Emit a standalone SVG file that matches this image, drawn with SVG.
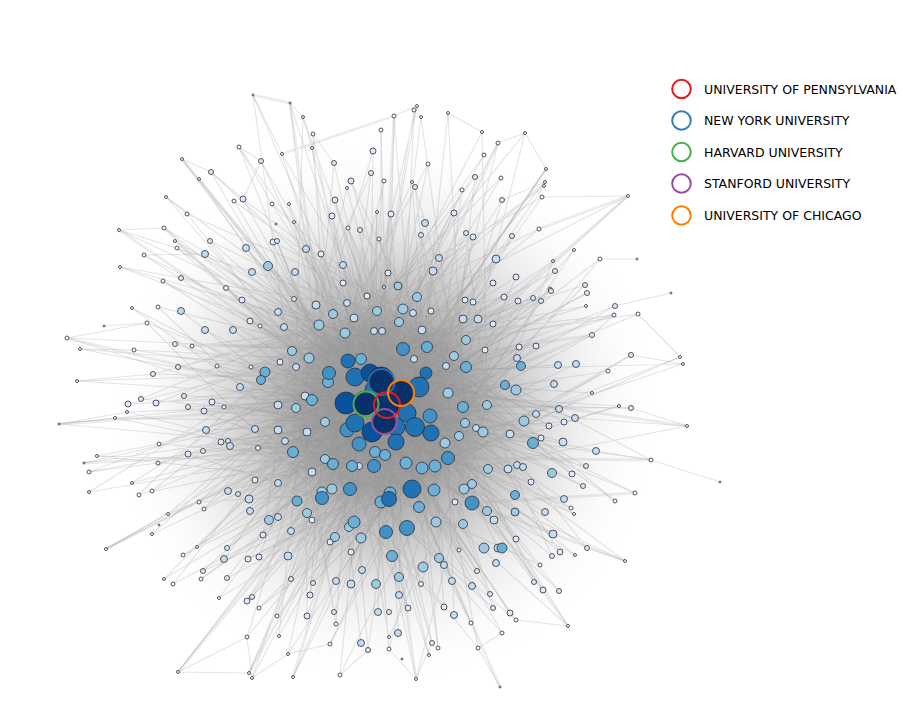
<svg xmlns="http://www.w3.org/2000/svg" width="903" height="728" viewBox="0 0 903 728">
<defs>
<radialGradient id="dens" cx="385" cy="410" r="270" gradientUnits="userSpaceOnUse">
<stop offset="0" stop-color="#8a8a8a" stop-opacity="0.95"/>
<stop offset="0.3" stop-color="#929292" stop-opacity="0.82"/>
<stop offset="0.5" stop-color="#a2a2a2" stop-opacity="0.55"/>
<stop offset="0.7" stop-color="#bcbcbc" stop-opacity="0.28"/>
<stop offset="0.88" stop-color="#d6d6d6" stop-opacity="0.09"/>
<stop offset="1" stop-color="#e8e8e8" stop-opacity="0"/>
</radialGradient>
</defs>
<style>
.e{fill:none;stroke:#8f8f8f;stroke-opacity:.24;stroke-width:1.1}
.ew{fill:none;stroke:#a0a0a0;stroke-opacity:.2;stroke-width:2.8;stroke-linecap:round}
.nodes circle{stroke:#25303d;stroke-width:.8}
.a{fill:#f7fbff}.b{fill:#deebf7}.c{fill:#c6dbef}.d{fill:#9ecae1}.e5{fill:#6baed6}.f{fill:#4292c6}.g{fill:#2171b5}.h{fill:#08519c}.i{fill:#08306b}
.ring{fill:none;stroke-width:2}
.lt{font-family:"DejaVu Sans","Liberation Sans",sans-serif;font-size:12.5px;fill:#000}
</style>
<rect width="903" height="728" fill="#fff"/>
<g id="connectors">
<ellipse cx="385" cy="410" rx="270" ry="270" fill="url(#dens)"/>
<path class="e" d="M253 95L387 405M290 103L381 380M303 117L402 393M313 134L365 403M312 148L384 422M282 154L419 387M182 159L355 377M199 179L412 489M166 197L346 403M234 201L372 432M272 204L407 413M187 214L355 423M119 230L426 373M164 228L431 433M175 241L396 442M177 248L370 373M144 255L348 361M120 267L403 349M163 281L448 458M239 147L329 373M394 116L387 405M381 130L381 380M414 110L402 393M417 106L365 403M421 117L384 422M448 113L419 387M482 132L355 377M498 143L412 489M484 155L346 403M428 164L372 432M347 188L407 413M384 181L355 423M412 182L426 373M462 190L431 433M289 204L396 442M377 212L370 373M294 222L348 361M348 228L403 349M379 239L448 458M525 133L329 373M546 169L387 405M545 182L381 380M544 186L402 393M501 178L365 403M542 197L384 422M628 196L419 387M539 229L355 377M574 250L412 489M553 261L346 403M600 259L372 432M550 289L407 413M132 308L355 423M158 307L426 373M147 323L431 433M67 338L396 442M80 349L370 373M134 350L348 361M192 346L403 349M260 326L448 458M77 381L329 373M217 366L387 405M251 367L381 380M224 407L402 393M127 412L365 403M115 418L384 422M59 424L419 387M159 444L355 377M97 456L412 489M84 463L346 403M158 463L372 432M89 472L407 413M132 483L355 423M152 491L426 373M89 492L431 433M139 494L396 442M586 306L370 373M614 315L348 361M638 314L403 349M680 357L448 458M683 364L329 373M608 371L387 405M592 393L381 380M619 406L402 393M687 426L365 403M651 460L384 422M635 493L419 387M199 502L412 489M204 509L346 403M168 514L372 432M152 534L407 413M106 549L355 423M197 547L426 373M183 555L431 433M201 579L396 442M164 579L370 373M173 584L348 361M219 598L403 349M259 608L448 458M247 637L329 373M178 672L387 405M249 673L381 380M252 678L402 393M459 550L365 403M471 623L384 422M279 636L419 387M336 624L355 377M330 644L412 489M389 637L346 403M389 649L372 432M438 648L407 413M429 655L355 423M478 648L426 373M288 654L431 433M293 677L396 442M340 675L370 373M416 679L348 361M615 501L403 349M571 508L448 458M574 514L329 373M575 555L387 405M625 561L381 380M540 565L402 393M516 620L365 403M502 633L384 422M568 626L419 387M277 616L355 377M261 161L412 489M211 172L346 403M243 199L372 432M210 241L407 413M273 242L355 423M181 278L426 373M226 288L431 433M334 163L396 442M373 151L370 373M371 173L348 361M351 181L403 349M415 187L448 458M475 177L329 373M335 200L387 405M332 216L381 380M391 214L402 393M454 213L365 403M360 230L384 422M421 235L419 387M466 233L355 377M473 237L412 489M277 241L346 403M321 254L372 432M343 283L407 413M388 273L355 423M493 283L426 373M502 200L431 433M512 236L396 442M555 271L370 373M585 285L348 361M516 277L403 349M242 300L448 458M250 321L329 373M175 344L387 405M153 374L381 380M178 367L402 393M184 396L365 403M141 399L384 422M128 404L419 387M156 403L355 377M188 407L412 489M204 411L346 403M212 402L372 432M228 441L407 413M221 442L355 423M258 448L426 373M188 454L431 433M203 451L396 442M255 480L370 373M238 494L348 361M504 297L403 349M518 301L448 458M533 298L329 373M541 301L387 405M551 291L381 380M587 293L402 393M615 306L365 403M592 335L384 422M519 347L419 387M536 346L355 377M631 355L412 489M631 408L346 403M564 422L372 432M549 426L407 413M541 438L355 423M572 474L426 373M586 466L431 433M531 482L396 442M583 486L370 373M263 535L348 361M227 548L403 349M248 559L448 458M259 557L329 373M203 571L387 405M227 578L381 380M252 597L402 393M247 601L365 403M291 579L384 422M313 583L419 387M421 584L355 377M490 594L412 489M310 595L346 403M307 616L372 432M334 612L407 413M408 608L355 423M444 607L426 373M493 608L431 433M368 650L396 442M432 643L370 373M477 571L348 361M516 539L403 349M560 552L448 458M552 556L329 373M587 548L387 405M534 582L381 380M543 590L402 393M559 591L365 403M510 613L384 422"/>
<path class="e" d="M253 95L296 408M290 103L325 422M303 117L293 452M313 134L333 464M312 148L352 466M282 154L375 452M182 159L406 463M199 179L435 466M166 197L463 407M234 201L466 367M272 204L427 347M187 214L403 309M119 230L377 311M164 228L345 333M175 241L319 325M177 248L309 358M144 255L292 351M120 267L448 393M163 281L483 432M239 147L445 443M394 116L422 468M381 130L390 493M414 110L350 489M417 106L322 498M421 117L454 356M448 113L465 423M482 132L487 405M498 143L399 322M484 155L329 373M428 164L305 396M347 188L296 408M384 181L325 422M412 182L293 452M462 190L333 464M289 204L352 466M377 212L375 452M294 222L406 463M348 228L435 466M379 239L463 407M525 133L466 367M546 169L427 347M545 182L403 309M544 186L377 311M501 178L345 333M542 197L319 325M628 196L309 358M539 229L292 351M574 250L448 393M553 261L483 432M600 259L445 443M550 289L422 468M132 308L390 493M158 307L350 489M147 323L322 498M67 338L454 356M80 349L465 423M134 350L487 405M192 346L399 322M260 326L329 373M77 381L305 396M217 366L296 408M251 367L325 422M224 407L293 452M127 412L333 464M115 418L352 466M59 424L375 452M159 444L406 463M97 456L435 466M84 463L463 407M158 463L466 367M89 472L427 347M132 483L403 309M152 491L377 311M89 492L345 333M139 494L319 325M586 306L309 358M614 315L292 351M638 314L448 393M680 357L483 432M683 364L445 443M608 371L422 468M592 393L390 493M619 406L350 489M687 426L322 498M651 460L454 356M635 493L465 423M199 502L399 322M204 509L329 373M168 514L305 396M152 534L296 408M106 549L325 422M197 547L293 452M183 555L333 464M201 579L352 466M164 579L375 452M173 584L406 463M219 598L435 466M259 608L463 407M247 637L466 367M178 672L427 347M249 673L403 309M252 678L377 311M459 550L345 333M471 623L319 325M279 636L309 358M336 624L292 351M330 644L448 393M389 637L483 432M389 649L445 443M438 648L422 468M429 655L390 493M478 648L350 489M288 654L322 498M293 677L454 356M340 675L465 423M416 679L487 405M615 501L399 322M571 508L329 373M574 514L305 396M575 555L296 408M625 561L325 422M540 565L293 452M516 620L333 464M502 633L352 466M568 626L375 452M277 616L406 463M261 161L435 466M211 172L463 407M243 199L466 367M210 241L427 347M273 242L403 309M181 278L377 311M226 288L345 333M334 163L319 325M373 151L309 358M371 173L292 351M351 181L448 393M415 187L483 432M475 177L445 443M335 200L422 468M332 216L390 493M391 214L350 489M454 213L322 498M360 230L454 356M421 235L465 423M466 233L487 405M473 237L399 322M277 241L329 373M321 254L305 396M343 283L296 408M388 273L325 422M493 283L293 452M502 200L333 464M512 236L352 466M555 271L375 452M585 285L406 463M516 277L435 466M242 300L463 407M250 321L466 367M175 344L427 347M153 374L403 309M178 367L377 311M184 396L345 333M141 399L319 325M128 404L309 358M156 403L292 351M188 407L448 393M204 411L483 432M212 402L445 443M228 441L422 468M221 442L390 493M258 448L350 489M188 454L322 498M203 451L454 356M255 480L465 423M238 494L487 405M504 297L399 322M518 301L329 373M533 298L305 396M541 301L296 408M551 291L325 422M587 293L293 452M615 306L333 464M592 335L352 466M519 347L375 452M536 346L406 463M631 355L435 466M631 408L463 407M564 422L466 367M549 426L427 347M541 438L403 309M572 474L377 311M586 466L345 333M531 482L319 325M583 486L309 358M263 535L292 351M227 548L448 393M248 559L483 432M259 557L445 443M203 571L422 468M227 578L390 493M252 597L350 489M247 601L322 498M291 579L454 356M313 583L465 423M421 584L487 405M490 594L399 322M310 595L329 373M307 616L305 396M334 612L296 408M408 608L325 422M444 607L293 452M493 608L333 464M368 650L352 466M432 643L375 452M477 571L406 463M516 539L435 466M560 552L463 407M552 556L466 367M587 548L427 347M534 582L403 309M543 590L377 311M559 591L345 333M510 613L319 325"/>
<path class="e" d="M246 248L387 405M205 254L381 380M252 272L402 393M425 223L365 403M306 249L384 422M295 272L419 387M439 258L355 377M181 311L412 489M205 330L346 403M233 330L372 432M240 387L407 413M206 430L355 423M255 429L426 373M230 446L431 433M228 491L396 442M316 305L370 373M347 303L348 361M278 312L403 349M354 318L448 458M413 313L329 373M463 319L387 405M478 319L381 380M284 327L402 393M422 330L365 403M296 367L384 422M446 366L419 387M278 405L355 377M278 430L412 489M307 432L346 403M285 441L372 432M476 428L407 413M517 358L355 423M558 365L426 373M576 364L431 433M554 384L396 442M559 409L370 373M575 418L348 361M536 414L403 349M510 434L448 458M563 442L329 373M596 451L387 405M508 469L381 380M312 472L402 393M278 483L365 403M249 499L384 422M250 511L419 387M224 559L355 377M433 271L412 489M496 259L346 403M494 520L372 432M288 556L407 413M362 570L355 423M444 565L426 373M336 581L431 433M351 584L396 442M452 581L370 373M472 586L348 361M399 595L403 349M454 615L448 458M361 643L329 373M398 633L387 405M378 612L381 380M564 499L402 393M545 512L365 403M553 534L384 422M498 548L419 387M268 266L355 377M417 297L412 489M292 351L346 403M296 408L372 432M487 405L407 413M487 511L355 423M269 520L426 373"/>
<path class="e" d="M239 147L261 161M261 161L243 199M211 172L243 199M182 159L211 172M166 197L187 214M119 230L164 228M144 255L205 254M120 267L181 278M67 338L147 323M80 349L134 350M77 381L153 374M59 424L127 412M97 456L159 444M89 472L158 463M106 549L168 514M178 672L249 673M252 678L247 637M288 654L330 644M340 675L368 650M416 679L432 643M500 687L478 648M568 626L516 620M625 561L587 548M651 460L596 451M720 482L651 460M687 426L631 408M683 364L631 355M680 357L638 314M671 293L615 306M637 259L600 259M628 196L542 197M546 169L525 133M482 132L448 113M417 106L394 116M290 103L303 117M253 95L282 154M313 134L334 163M303 117L312 148M239 147L272 204M525 133L498 143M545 182L502 200M614 315L592 335M619 406L564 422M178 672L247 637M252 678L288 654M416 679L389 649M502 633L478 648M59 424L115 418M104 326L147 323"/>
<path class="ew" d="M394 116L282 154M628 196L539 229M687 426L419 387M651 460L448 458M635 493L472 503M614 315L466 367M592 335L454 356M628 196L426 373M546 169L427 347M498 143L403 349M394 116L381 380M290 103L329 373M182 159L348 361M119 230L329 373M67 338L305 396M59 424L296 408M84 463L293 452M106 549L293 452M178 672L322 498M249 673L350 489M293 677L350 489M416 679L390 493M500 687L412 489M568 626L448 458M625 561L472 503M164 228L346 403M253 95L290 103"/>
</g>
<g class="nodes">
<g id="n1"><circle class="a" cx="253" cy="95" r="1"/></g>
<g id="n2"><circle class="a" cx="290" cy="103" r="1"/></g>
<g id="n3"><circle class="a" cx="303" cy="117" r="1.5"/></g>
<g id="n4"><circle class="a" cx="313" cy="134" r="2"/></g>
<g id="n5"><circle class="a" cx="312" cy="148" r="1.5"/></g>
<g id="n6"><circle class="a" cx="282" cy="154" r="1.5"/></g>
<g id="n7"><circle class="a" cx="182" cy="159" r="1.5"/></g>
<g id="n8"><circle class="a" cx="199" cy="179" r="1.5"/></g>
<g id="n9"><circle class="a" cx="166" cy="197" r="1.5"/></g>
<g id="n10"><circle class="a" cx="234" cy="201" r="2"/></g>
<g id="n11"><circle class="a" cx="272" cy="204" r="2"/></g>
<g id="n12"><circle class="a" cx="187" cy="214" r="2"/></g>
<g id="n13"><circle class="a" cx="119" cy="230" r="1.5"/></g>
<g id="n14"><circle class="a" cx="164" cy="228" r="2"/></g>
<g id="n15"><circle class="a" cx="175" cy="241" r="1.5"/></g>
<g id="n16"><circle class="a" cx="177" cy="248" r="2"/></g>
<g id="n17"><circle class="a" cx="144" cy="255" r="2"/></g>
<g id="n18"><circle class="a" cx="120" cy="267" r="1.5"/></g>
<g id="n19"><circle class="a" cx="163" cy="281" r="2"/></g>
<g id="n20"><circle class="a" cx="239" cy="147" r="2"/></g>
<g id="n21"><circle class="a" cx="394" cy="116" r="2"/></g>
<g id="n22"><circle class="a" cx="381" cy="130" r="2"/></g>
<g id="n23"><circle class="a" cx="414" cy="110" r="2"/></g>
<g id="n24"><circle class="a" cx="417" cy="106" r="1.5"/></g>
<g id="n25"><circle class="a" cx="421" cy="117" r="1.5"/></g>
<g id="n26"><circle class="a" cx="448" cy="113" r="1.5"/></g>
<g id="n27"><circle class="a" cx="482" cy="132" r="1.5"/></g>
<g id="n28"><circle class="a" cx="498" cy="143" r="2"/></g>
<g id="n29"><circle class="a" cx="484" cy="155" r="2"/></g>
<g id="n30"><circle class="a" cx="428" cy="164" r="2"/></g>
<g id="n31"><circle class="a" cx="347" cy="188" r="1.5"/></g>
<g id="n32"><circle class="a" cx="384" cy="181" r="2"/></g>
<g id="n33"><circle class="a" cx="412" cy="182" r="1.5"/></g>
<g id="n34"><circle class="a" cx="462" cy="190" r="2"/></g>
<g id="n35"><circle class="a" cx="289" cy="204" r="1.5"/></g>
<g id="n36"><circle class="a" cx="377" cy="212" r="1.5"/></g>
<g id="n37"><circle class="a" cx="294" cy="222" r="1.5"/></g>
<g id="n38"><circle class="a" cx="348" cy="228" r="2"/></g>
<g id="n39"><circle class="a" cx="379" cy="239" r="2"/></g>
<g id="n40"><circle class="a" cx="525" cy="133" r="1.5"/></g>
<g id="n41"><circle class="a" cx="546" cy="169" r="1.5"/></g>
<g id="n42"><circle class="a" cx="545" cy="182" r="1.5"/></g>
<g id="n43"><circle class="a" cx="544" cy="186" r="1.5"/></g>
<g id="n44"><circle class="a" cx="501" cy="178" r="2"/></g>
<g id="n45"><circle class="a" cx="542" cy="197" r="2"/></g>
<g id="n46"><circle class="a" cx="628" cy="196" r="1.5"/></g>
<g id="n47"><circle class="a" cx="539" cy="229" r="2"/></g>
<g id="n48"><circle class="a" cx="574" cy="250" r="1.5"/></g>
<g id="n49"><circle class="a" cx="553" cy="261" r="1.5"/></g>
<g id="n50"><circle class="a" cx="600" cy="259" r="2"/></g>
<g id="n51"><circle class="a" cx="637" cy="259" r="1"/></g>
<g id="n52"><circle class="a" cx="550" cy="289" r="2"/></g>
<g id="n53"><circle class="a" cx="132" cy="308" r="1.5"/></g>
<g id="n54"><circle class="a" cx="158" cy="307" r="2"/></g>
<g id="n55"><circle class="a" cx="104" cy="326" r="1"/></g>
<g id="n56"><circle class="a" cx="147" cy="323" r="2"/></g>
<g id="n57"><circle class="a" cx="67" cy="338" r="2"/></g>
<g id="n58"><circle class="a" cx="80" cy="349" r="1.5"/></g>
<g id="n59"><circle class="a" cx="134" cy="350" r="2"/></g>
<g id="n60"><circle class="a" cx="192" cy="346" r="2"/></g>
<g id="n61"><circle class="a" cx="260" cy="326" r="2"/></g>
<g id="n62"><circle class="a" cx="77" cy="381" r="1.5"/></g>
<g id="n63"><circle class="a" cx="217" cy="366" r="2"/></g>
<g id="n64"><circle class="a" cx="251" cy="367" r="2"/></g>
<g id="n65"><circle class="a" cx="224" cy="407" r="2"/></g>
<g id="n66"><circle class="a" cx="127" cy="412" r="1.5"/></g>
<g id="n67"><circle class="a" cx="115" cy="418" r="1.5"/></g>
<g id="n68"><circle class="a" cx="59" cy="424" r="1"/></g>
<g id="n69"><circle class="a" cx="159" cy="444" r="2"/></g>
<g id="n70"><circle class="a" cx="97" cy="456" r="1.5"/></g>
<g id="n71"><circle class="a" cx="84" cy="463" r="1"/></g>
<g id="n72"><circle class="a" cx="158" cy="463" r="2"/></g>
<g id="n73"><circle class="a" cx="89" cy="472" r="2"/></g>
<g id="n74"><circle class="a" cx="132" cy="483" r="1.5"/></g>
<g id="n75"><circle class="a" cx="152" cy="491" r="2"/></g>
<g id="n76"><circle class="a" cx="89" cy="492" r="1.5"/></g>
<g id="n77"><circle class="a" cx="139" cy="495" r="2"/></g>
<g id="n78"><circle class="a" cx="276" cy="224" r="1"/></g>
<g id="n79"><circle class="a" cx="586" cy="306" r="1.5"/></g>
<g id="n80"><circle class="a" cx="614" cy="315" r="2"/></g>
<g id="n81"><circle class="a" cx="638" cy="314" r="2"/></g>
<g id="n82"><circle class="a" cx="680" cy="357" r="1.5"/></g>
<g id="n83"><circle class="a" cx="683" cy="364" r="1.5"/></g>
<g id="n84"><circle class="a" cx="608" cy="371" r="2"/></g>
<g id="n85"><circle class="a" cx="592" cy="393" r="1.5"/></g>
<g id="n86"><circle class="a" cx="619" cy="406" r="1.5"/></g>
<g id="n87"><circle class="a" cx="687" cy="426" r="1.5"/></g>
<g id="n88"><circle class="a" cx="651" cy="460" r="2"/></g>
<g id="n89"><circle class="a" cx="671" cy="293" r="1"/></g>
<g id="n90"><circle class="a" cx="720" cy="482" r="1"/></g>
<g id="n91"><circle class="a" cx="635" cy="493" r="2"/></g>
<g id="n92"><circle class="a" cx="199" cy="502" r="2"/></g>
<g id="n93"><circle class="a" cx="204" cy="509" r="2"/></g>
<g id="n94"><circle class="a" cx="168" cy="514" r="1.5"/></g>
<g id="n95"><circle class="a" cx="159" cy="525" r="1"/></g>
<g id="n96"><circle class="a" cx="152" cy="534" r="1.5"/></g>
<g id="n97"><circle class="a" cx="106" cy="549" r="1.5"/></g>
<g id="n98"><circle class="a" cx="197" cy="547" r="1.5"/></g>
<g id="n99"><circle class="a" cx="183" cy="555" r="2"/></g>
<g id="n100"><circle class="a" cx="201" cy="579" r="2"/></g>
<g id="n101"><circle class="a" cx="164" cy="579" r="1.5"/></g>
<g id="n102"><circle class="a" cx="173" cy="584" r="2"/></g>
<g id="n103"><circle class="a" cx="219" cy="598" r="1.5"/></g>
<g id="n104"><circle class="a" cx="259" cy="608" r="2"/></g>
<g id="n105"><circle class="a" cx="247" cy="637" r="2"/></g>
<g id="n106"><circle class="a" cx="178" cy="672" r="1.5"/></g>
<g id="n107"><circle class="a" cx="249" cy="673" r="1.5"/></g>
<g id="n108"><circle class="a" cx="252" cy="678" r="1.5"/></g>
<g id="n109"><circle class="a" cx="459" cy="550" r="2"/></g>
<g id="n110"><circle class="a" cx="471" cy="623" r="2"/></g>
<g id="n111"><circle class="a" cx="279" cy="636" r="1.5"/></g>
<g id="n112"><circle class="a" cx="336" cy="624" r="2"/></g>
<g id="n113"><circle class="a" cx="330" cy="644" r="2"/></g>
<g id="n114"><circle class="a" cx="389" cy="637" r="1.5"/></g>
<g id="n115"><circle class="a" cx="389" cy="649" r="2"/></g>
<g id="n116"><circle class="a" cx="438" cy="648" r="2"/></g>
<g id="n117"><circle class="a" cx="429" cy="655" r="1.5"/></g>
<g id="n118"><circle class="a" cx="478" cy="648" r="2"/></g>
<g id="n119"><circle class="a" cx="402" cy="659" r="1"/></g>
<g id="n120"><circle class="a" cx="288" cy="654" r="1.5"/></g>
<g id="n121"><circle class="a" cx="293" cy="677" r="1.5"/></g>
<g id="n122"><circle class="a" cx="340" cy="675" r="2"/></g>
<g id="n123"><circle class="a" cx="416" cy="679" r="1.5"/></g>
<g id="n124"><circle class="a" cx="615" cy="501" r="2"/></g>
<g id="n125"><circle class="a" cx="571" cy="508" r="2"/></g>
<g id="n126"><circle class="a" cx="574" cy="514" r="1.5"/></g>
<g id="n127"><circle class="a" cx="575" cy="555" r="1.5"/></g>
<g id="n128"><circle class="a" cx="625" cy="561" r="1.5"/></g>
<g id="n129"><circle class="a" cx="540" cy="565" r="2"/></g>
<g id="n130"><circle class="a" cx="516" cy="620" r="2"/></g>
<g id="n131"><circle class="a" cx="502" cy="633" r="2"/></g>
<g id="n132"><circle class="a" cx="568" cy="626" r="1.5"/></g>
<g id="n133"><circle class="a" cx="500" cy="687" r="1"/></g>
<g id="n134"><circle class="a" cx="277" cy="616" r="2"/></g>
<g id="n135"><circle class="a" cx="384" cy="287" r="1.5"/></g>
<g id="n136"><circle class="b" cx="261" cy="161" r="2.5"/></g>
<g id="n137"><circle class="b" cx="211" cy="172" r="2.5"/></g>
<g id="n138"><circle class="b" cx="243" cy="199" r="3"/></g>
<g id="n139"><circle class="b" cx="210" cy="241" r="2.5"/></g>
<g id="n140"><circle class="b" cx="273" cy="242" r="3"/></g>
<g id="n141"><circle class="b" cx="181" cy="278" r="2.5"/></g>
<g id="n142"><circle class="b" cx="226" cy="288" r="2.5"/></g>
<g id="n143"><circle class="b" cx="334" cy="163" r="2.5"/></g>
<g id="n144"><circle class="b" cx="373" cy="151" r="3"/></g>
<g id="n145"><circle class="b" cx="371" cy="173" r="2.5"/></g>
<g id="n146"><circle class="b" cx="351" cy="181" r="3"/></g>
<g id="n147"><circle class="b" cx="415" cy="187" r="2.5"/></g>
<g id="n148"><circle class="b" cx="475" cy="177" r="2.5"/></g>
<g id="n149"><circle class="b" cx="335" cy="200" r="3"/></g>
<g id="n150"><circle class="b" cx="332" cy="216" r="3"/></g>
<g id="n151"><circle class="b" cx="391" cy="214" r="3"/></g>
<g id="n152"><circle class="b" cx="454" cy="213" r="3"/></g>
<g id="n153"><circle class="b" cx="360" cy="230" r="2.5"/></g>
<g id="n154"><circle class="b" cx="421" cy="235" r="2.5"/></g>
<g id="n155"><circle class="b" cx="466" cy="233" r="2.5"/></g>
<g id="n156"><circle class="b" cx="473" cy="237" r="3"/></g>
<g id="n157"><circle class="b" cx="277" cy="241" r="2.5"/></g>
<g id="n158"><circle class="b" cx="321" cy="254" r="3"/></g>
<g id="n159"><circle class="b" cx="343" cy="283" r="3"/></g>
<g id="n160"><circle class="b" cx="388" cy="273" r="3"/></g>
<g id="n161"><circle class="b" cx="493" cy="283" r="3"/></g>
<g id="n162"><circle class="b" cx="502" cy="200" r="2.5"/></g>
<g id="n163"><circle class="b" cx="512" cy="236" r="2.5"/></g>
<g id="n164"><circle class="b" cx="555" cy="271" r="2.5"/></g>
<g id="n165"><circle class="b" cx="585" cy="285" r="2.5"/></g>
<g id="n166"><circle class="b" cx="516" cy="277" r="3"/></g>
<g id="n167"><circle class="b" cx="242" cy="300" r="3"/></g>
<g id="n168"><circle class="b" cx="250" cy="321" r="3"/></g>
<g id="n169"><circle class="b" cx="175" cy="344" r="2.5"/></g>
<g id="n170"><circle class="b" cx="153" cy="374" r="2.5"/></g>
<g id="n171"><circle class="b" cx="178" cy="367" r="2.5"/></g>
<g id="n172"><circle class="b" cx="184" cy="396" r="2.5"/></g>
<g id="n173"><circle class="b" cx="141" cy="399" r="2.5"/></g>
<g id="n174"><circle class="b" cx="128" cy="404" r="3"/></g>
<g id="n175"><circle class="b" cx="156" cy="403" r="3"/></g>
<g id="n176"><circle class="b" cx="188" cy="407" r="2.5"/></g>
<g id="n177"><circle class="b" cx="204" cy="411" r="3"/></g>
<g id="n178"><circle class="b" cx="212" cy="402" r="3"/></g>
<g id="n179"><circle class="b" cx="228" cy="441" r="2.5"/></g>
<g id="n180"><circle class="b" cx="221" cy="442" r="3"/></g>
<g id="n181"><circle class="b" cx="258" cy="448" r="2.5"/></g>
<g id="n182"><circle class="b" cx="188" cy="454" r="3"/></g>
<g id="n183"><circle class="b" cx="203" cy="451" r="2.5"/></g>
<g id="n184"><circle class="b" cx="255" cy="480" r="3"/></g>
<g id="n185"><circle class="b" cx="238" cy="494" r="2.5"/></g>
<g id="n186"><circle class="b" cx="294" cy="299" r="2.5"/></g>
<g id="n187"><circle class="b" cx="367" cy="296" r="3"/></g>
<g id="n188"><circle class="b" cx="465" cy="300" r="3"/></g>
<g id="n189"><circle class="b" cx="473" cy="302" r="3"/></g>
<g id="n190"><circle class="b" cx="431" cy="311" r="3"/></g>
<g id="n191"><circle class="b" cx="493" cy="324" r="3"/></g>
<g id="n192"><circle class="b" cx="280" cy="362" r="3"/></g>
<g id="n193"><circle class="b" cx="485" cy="350" r="3"/></g>
<g id="n194"><circle class="b" cx="504" cy="297" r="3"/></g>
<g id="n195"><circle class="b" cx="518" cy="301" r="3"/></g>
<g id="n196"><circle class="b" cx="533" cy="298" r="2.5"/></g>
<g id="n197"><circle class="b" cx="541" cy="301" r="2.5"/></g>
<g id="n198"><circle class="b" cx="551" cy="291" r="2.5"/></g>
<g id="n199"><circle class="b" cx="587" cy="293" r="2.5"/></g>
<g id="n200"><circle class="b" cx="615" cy="306" r="2.5"/></g>
<g id="n201"><circle class="b" cx="592" cy="335" r="2.5"/></g>
<g id="n202"><circle class="b" cx="519" cy="347" r="3"/></g>
<g id="n203"><circle class="b" cx="536" cy="346" r="3"/></g>
<g id="n204"><circle class="b" cx="631" cy="355" r="2.5"/></g>
<g id="n205"><circle class="b" cx="631" cy="408" r="2.5"/></g>
<g id="n206"><circle class="b" cx="564" cy="422" r="3"/></g>
<g id="n207"><circle class="b" cx="549" cy="426" r="3"/></g>
<g id="n208"><circle class="b" cx="541" cy="438" r="3"/></g>
<g id="n209"><circle class="b" cx="572" cy="474" r="3"/></g>
<g id="n210"><circle class="b" cx="586" cy="466" r="2.5"/></g>
<g id="n211"><circle class="b" cx="531" cy="482" r="3"/></g>
<g id="n212"><circle class="b" cx="583" cy="486" r="2.5"/></g>
<g id="n213"><circle class="b" cx="263" cy="535" r="3"/></g>
<g id="n214"><circle class="b" cx="227" cy="548" r="2.5"/></g>
<g id="n215"><circle class="b" cx="248" cy="559" r="3"/></g>
<g id="n216"><circle class="b" cx="259" cy="557" r="3"/></g>
<g id="n217"><circle class="b" cx="203" cy="571" r="2.5"/></g>
<g id="n218"><circle class="b" cx="227" cy="578" r="2.5"/></g>
<g id="n219"><circle class="b" cx="252" cy="597" r="2.5"/></g>
<g id="n220"><circle class="b" cx="247" cy="601" r="3"/></g>
<g id="n221"><circle class="b" cx="312" cy="520" r="3"/></g>
<g id="n222"><circle class="b" cx="455" cy="502" r="3"/></g>
<g id="n223"><circle class="b" cx="330" cy="542" r="3"/></g>
<g id="n224"><circle class="b" cx="351" cy="552" r="3"/></g>
<g id="n225"><circle class="b" cx="291" cy="579" r="2.5"/></g>
<g id="n226"><circle class="b" cx="313" cy="583" r="2.5"/></g>
<g id="n227"><circle class="b" cx="421" cy="584" r="2.5"/></g>
<g id="n228"><circle class="b" cx="490" cy="594" r="2.5"/></g>
<g id="n229"><circle class="b" cx="310" cy="595" r="3"/></g>
<g id="n230"><circle class="b" cx="307" cy="616" r="3"/></g>
<g id="n231"><circle class="b" cx="334" cy="612" r="2.5"/></g>
<g id="n232"><circle class="b" cx="389" cy="612" r="2.5"/></g>
<g id="n233"><circle class="b" cx="408" cy="608" r="3"/></g>
<g id="n234"><circle class="b" cx="444" cy="607" r="3"/></g>
<g id="n235"><circle class="b" cx="493" cy="608" r="2.5"/></g>
<g id="n236"><circle class="b" cx="368" cy="650" r="2.5"/></g>
<g id="n237"><circle class="b" cx="432" cy="643" r="2.5"/></g>
<g id="n238"><circle class="b" cx="477" cy="571" r="2.5"/></g>
<g id="n239"><circle class="b" cx="516" cy="539" r="3"/></g>
<g id="n240"><circle class="b" cx="560" cy="552" r="3"/></g>
<g id="n241"><circle class="b" cx="552" cy="556" r="2.5"/></g>
<g id="n242"><circle class="b" cx="587" cy="548" r="2.5"/></g>
<g id="n243"><circle class="b" cx="534" cy="582" r="2.5"/></g>
<g id="n244"><circle class="b" cx="543" cy="590" r="3"/></g>
<g id="n245"><circle class="b" cx="559" cy="591" r="2.5"/></g>
<g id="n246"><circle class="b" cx="510" cy="613" r="3"/></g>
<g id="n247"><circle class="c" cx="246" cy="248" r="3.5"/></g>
<g id="n248"><circle class="c" cx="205" cy="254" r="3.5"/></g>
<g id="n249"><circle class="c" cx="252" cy="272" r="3.5"/></g>
<g id="n250"><circle class="c" cx="425" cy="223" r="3.5"/></g>
<g id="n251"><circle class="c" cx="306" cy="249" r="3.5"/></g>
<g id="n252"><circle class="c" cx="295" cy="272" r="3.5"/></g>
<g id="n253"><circle class="c" cx="439" cy="258" r="3.5"/></g>
<g id="n254"><circle class="c" cx="181" cy="311" r="3.5"/></g>
<g id="n255"><circle class="c" cx="205" cy="330" r="3.5"/></g>
<g id="n256"><circle class="c" cx="233" cy="330" r="3.5"/></g>
<g id="n257"><circle class="c" cx="240" cy="387" r="3.5"/></g>
<g id="n258"><circle class="c" cx="206" cy="430" r="3.5"/></g>
<g id="n259"><circle class="c" cx="255" cy="429" r="3.5"/></g>
<g id="n260"><circle class="c" cx="230" cy="446" r="3.5"/></g>
<g id="n261"><circle class="c" cx="228" cy="491" r="3.5"/></g>
<g id="n262"><circle class="c" cx="316" cy="305" r="4"/></g>
<g id="n263"><circle class="c" cx="347" cy="303" r="3.5"/></g>
<g id="n264"><circle class="c" cx="278" cy="312" r="3.5"/></g>
<g id="n265"><circle class="c" cx="354" cy="318" r="4"/></g>
<g id="n266"><circle class="c" cx="413" cy="313" r="3.5"/></g>
<g id="n267"><circle class="c" cx="463" cy="319" r="4"/></g>
<g id="n268"><circle class="c" cx="478" cy="319" r="4"/></g>
<g id="n269"><circle class="c" cx="284" cy="327" r="3.5"/></g>
<g id="n270"><circle class="c" cx="374" cy="331" r="3.5"/></g>
<g id="n271"><circle class="c" cx="382" cy="331" r="3.5"/></g>
<g id="n272"><circle class="c" cx="422" cy="330" r="4"/></g>
<g id="n273"><circle class="c" cx="296" cy="367" r="3.5"/></g>
<g id="n274"><circle class="c" cx="414" cy="359" r="3.5"/></g>
<g id="n275"><circle class="c" cx="446" cy="366" r="3.5"/></g>
<g id="n276"><circle class="c" cx="305" cy="396" r="4"/></g>
<g id="n277"><circle class="c" cx="278" cy="405" r="4"/></g>
<g id="n278"><circle class="c" cx="278" cy="430" r="4"/></g>
<g id="n279"><circle class="c" cx="307" cy="432" r="4"/></g>
<g id="n280"><circle class="c" cx="285" cy="441" r="3.5"/></g>
<g id="n281"><circle class="c" cx="476" cy="428" r="3.5"/></g>
<g id="n282"><circle class="c" cx="517" cy="358" r="3.5"/></g>
<g id="n283"><circle class="c" cx="558" cy="365" r="3.5"/></g>
<g id="n284"><circle class="c" cx="576" cy="364" r="3.5"/></g>
<g id="n285"><circle class="c" cx="554" cy="384" r="3.5"/></g>
<g id="n286"><circle class="c" cx="559" cy="409" r="3.5"/></g>
<g id="n287"><circle class="c" cx="575" cy="418" r="3.5"/></g>
<g id="n288"><circle class="c" cx="536" cy="414" r="3.5"/></g>
<g id="n289"><circle class="c" cx="510" cy="434" r="4"/></g>
<g id="n290"><circle class="c" cx="563" cy="442" r="4"/></g>
<g id="n291"><circle class="c" cx="596" cy="451" r="3.5"/></g>
<g id="n292"><circle class="c" cx="508" cy="469" r="4"/></g>
<g id="n293"><circle class="c" cx="517" cy="465" r="3.5"/></g>
<g id="n294"><circle class="c" cx="523" cy="467" r="3.5"/></g>
<g id="n295"><circle class="c" cx="359" cy="466" r="3.5"/></g>
<g id="n296"><circle class="c" cx="312" cy="472" r="4"/></g>
<g id="n297"><circle class="c" cx="278" cy="483" r="3.5"/></g>
<g id="n298"><circle class="c" cx="249" cy="499" r="4"/></g>
<g id="n299"><circle class="c" cx="250" cy="511" r="3.5"/></g>
<g id="n300"><circle class="c" cx="224" cy="559" r="3.5"/></g>
<g id="n301"><circle class="c" cx="343" cy="265" r="3.5"/></g>
<g id="n302"><circle class="c" cx="433" cy="271" r="4"/></g>
<g id="n303"><circle class="c" cx="496" cy="259" r="4"/></g>
<g id="n304"><circle class="c" cx="494" cy="520" r="4"/></g>
<g id="n305"><circle class="c" cx="278" cy="517" r="3.5"/></g>
<g id="n306"><circle class="c" cx="291" cy="531" r="3.5"/></g>
<g id="n307"><circle class="c" cx="288" cy="556" r="4"/></g>
<g id="n308"><circle class="c" cx="362" cy="570" r="3.5"/></g>
<g id="n309"><circle class="c" cx="444" cy="565" r="3.5"/></g>
<g id="n310"><circle class="c" cx="336" cy="581" r="3.5"/></g>
<g id="n311"><circle class="c" cx="351" cy="584" r="4"/></g>
<g id="n312"><circle class="c" cx="452" cy="581" r="3.5"/></g>
<g id="n313"><circle class="c" cx="472" cy="586" r="3.5"/></g>
<g id="n314"><circle class="c" cx="399" cy="595" r="3.5"/></g>
<g id="n315"><circle class="c" cx="454" cy="615" r="3.5"/></g>
<g id="n316"><circle class="c" cx="361" cy="643" r="3.5"/></g>
<g id="n317"><circle class="c" cx="398" cy="633" r="3.5"/></g>
<g id="n318"><circle class="c" cx="378" cy="612" r="3.5"/></g>
<g id="n319"><circle class="c" cx="564" cy="499" r="3.5"/></g>
<g id="n320"><circle class="c" cx="545" cy="512" r="3.5"/></g>
<g id="n321"><circle class="c" cx="553" cy="534" r="4"/></g>
<g id="n322"><circle class="c" cx="498" cy="548" r="4"/></g>
<g id="n323"><circle class="c" cx="496" cy="563" r="3.5"/></g>
<g id="n324"><circle class="d" cx="268" cy="266" r="4.5"/></g>
<g id="n325"><circle class="d" cx="398" cy="286" r="4"/></g>
<g id="n326"><circle class="d" cx="417" cy="297" r="4.5"/></g>
<g id="n327"><circle class="d" cx="333" cy="314" r="4.5"/></g>
<g id="n328"><circle class="d" cx="377" cy="311" r="4.5"/></g>
<g id="n329"><circle class="d" cx="403" cy="309" r="5"/></g>
<g id="n330"><circle class="d" cx="399" cy="322" r="4.5"/></g>
<g id="n331"><circle class="d" cx="466" cy="340" r="4.5"/></g>
<g id="n332"><circle class="d" cx="292" cy="351" r="4.5"/></g>
<g id="n333"><circle class="d" cx="454" cy="356" r="4.5"/></g>
<g id="n334"><circle class="d" cx="296" cy="408" r="4.5"/></g>
<g id="n335"><circle class="d" cx="325" cy="422" r="4.5"/></g>
<g id="n336"><circle class="d" cx="465" cy="423" r="4.5"/></g>
<g id="n337"><circle class="d" cx="487" cy="405" r="4.5"/></g>
<g id="n338"><circle class="d" cx="459" cy="436" r="4.5"/></g>
<g id="n339"><circle class="d" cx="325" cy="459" r="4.5"/></g>
<g id="n340"><circle class="d" cx="487" cy="511" r="4.5"/></g>
<g id="n341"><circle class="d" cx="307" cy="513" r="4.5"/></g>
<g id="n342"><circle class="d" cx="349" cy="527" r="4.5"/></g>
<g id="n343"><circle class="d" cx="335" cy="537" r="4.5"/></g>
<g id="n344"><circle class="d" cx="361" cy="538" r="5"/></g>
<g id="n345"><circle class="d" cx="439" cy="558" r="4.5"/></g>
<g id="n346"><circle class="d" cx="423" cy="567" r="5"/></g>
<g id="n347"><circle class="d" cx="484" cy="548" r="5"/></g>
<g id="n348"><circle class="d" cx="376" cy="584" r="4.5"/></g>
<g id="n349"><circle class="d" cx="399" cy="577" r="4.5"/></g>
<g id="n350"><circle class="d" cx="436" cy="522" r="5"/></g>
<g id="n351"><circle class="d" cx="463" cy="524" r="4.5"/></g>
<g id="n352"><circle class="d" cx="269" cy="520" r="4.5"/></g>
<g id="n353"><circle class="d" cx="515" cy="512" r="4"/></g>
<g id="n354"><circle class="d" cx="552" cy="473" r="4.5"/></g>
<g id="n355"><circle class="d" cx="516" cy="390" r="5"/></g>
<g id="n356"><circle class="d" cx="524" cy="421" r="5"/></g>
<g id="n357"><circle class="d" cx="448" cy="393" r="5"/></g>
<g id="n358"><circle class="d" cx="483" cy="432" r="5"/></g>
<g id="n359"><circle class="d" cx="445" cy="443" r="5"/></g>
<g id="n360"><circle class="d" cx="464" cy="489" r="5"/></g>
<g id="n361"><circle class="d" cx="472" cy="484" r="4.5"/></g>
<g id="n362"><circle class="d" cx="488" cy="469" r="4.5"/></g>
<g id="n363"><circle class="d" cx="322" cy="492" r="5"/></g>
<g id="n364"><circle class="d" cx="332" cy="489" r="5"/></g>
<g id="n365"><circle class="d" cx="319" cy="325" r="5"/></g>
<g id="n366"><circle class="d" cx="345" cy="333" r="5"/></g>
<g id="n367"><circle class="d" cx="309" cy="358" r="5"/></g>
<g id="n368"><circle class="e5" cx="265" cy="372" r="5"/></g>
<g id="n369"><circle class="e5" cx="261" cy="380" r="4.5"/></g>
<g id="n370"><circle class="e5" cx="521" cy="366" r="4.5"/></g>
<g id="n371"><circle class="e5" cx="505" cy="385" r="4.5"/></g>
<g id="n372"><circle class="e5" cx="502" cy="548" r="5"/></g>
<g id="n373"><circle class="e5" cx="297" cy="501" r="5"/></g>
<g id="n374"><circle class="e5" cx="427" cy="347" r="5.5"/></g>
<g id="n375"><circle class="e5" cx="466" cy="367" r="5.5"/></g>
<g id="n376"><circle class="e5" cx="463" cy="407" r="5.5"/></g>
<g id="n377"><circle class="e5" cx="312" cy="400" r="5.5"/></g>
<g id="n378"><circle class="e5" cx="293" cy="452" r="5.5"/></g>
<g id="n379"><circle class="e5" cx="333" cy="464" r="5.5"/></g>
<g id="n380"><circle class="e5" cx="352" cy="466" r="5.5"/></g>
<g id="n381"><circle class="e5" cx="375" cy="452" r="5.5"/></g>
<g id="n382"><circle class="e5" cx="385" cy="455" r="5.5"/></g>
<g id="n383"><circle class="e5" cx="406" cy="463" r="6"/></g>
<g id="n384"><circle class="e5" cx="422" cy="468" r="6"/></g>
<g id="n385"><circle class="e5" cx="435" cy="466" r="6"/></g>
<g id="n386"><circle class="e5" cx="390" cy="493" r="6"/></g>
<g id="n387"><circle class="e5" cx="434" cy="490" r="6"/></g>
<g id="n388"><circle class="e5" cx="354" cy="522" r="6"/></g>
<g id="n389"><circle class="e5" cx="381" cy="502" r="6"/></g>
<g id="n390"><circle class="e5" cx="419" cy="507" r="5.5"/></g>
<g id="n391"><circle class="e5" cx="392" cy="556" r="5.5"/></g>
<g id="n392"><circle class="e5" cx="533" cy="443" r="5.5"/></g>
<g id="n393"><circle class="e5" cx="515" cy="495" r="4.5"/></g>
<g id="n394"><circle class="e5" cx="361" cy="359" r="5.5"/></g>
<g id="n395"><circle class="e5" cx="328" cy="382" r="5.5"/></g>
<g id="n396"><circle class="f" cx="403" cy="349" r="6.5"/></g>
<g id="n397"><circle class="f" cx="329" cy="373" r="6.5"/></g>
<g id="n398"><circle class="f" cx="448" cy="458" r="6.5"/></g>
<g id="n399"><circle class="f" cx="374" cy="466" r="6.5"/></g>
<g id="n400"><circle class="f" cx="350" cy="489" r="6.5"/></g>
<g id="n401"><circle class="f" cx="386" cy="532" r="6.5"/></g>
<g id="n402"><circle class="f" cx="322" cy="498" r="6.5"/></g>
<g id="n403"><circle class="f" cx="472" cy="503" r="7"/></g>
<g id="n404"><circle class="f" cx="407" cy="528" r="7.5"/></g>
<g id="n405"><circle class="f" cx="430" cy="416" r="7"/></g>
<g id="n406"><circle class="g" cx="348" cy="361" r="7"/></g>
<g id="n407"><circle class="f" cx="359" cy="444" r="7"/></g>
<g id="n408"><circle class="f" cx="347" cy="430" r="7"/></g>
<g id="n409"><circle class="g" cx="389" cy="499" r="7.5"/></g>
<g id="n410"><circle class="g" cx="412" cy="489" r="9"/></g>
<g id="n411"><circle class="g" cx="426" cy="373" r="6"/></g>
<g id="n412"><circle class="g" cx="355" cy="377" r="9"/></g>
<g id="n413"><circle class="g" cx="375" cy="390" r="10"/></g>
<g id="n414"><circle class="g" cx="407" cy="413" r="9"/></g>
<g id="n415"><circle class="g" cx="355" cy="423" r="9"/></g>
<g id="n416"><circle class="g" cx="396" cy="427" r="9"/></g>
<g id="n417"><circle class="g" cx="415" cy="427" r="9.5"/></g>
<g id="n418"><circle class="g" cx="431" cy="433" r="8"/></g>
<g id="n419"><circle class="g" cx="396" cy="442" r="8"/></g>
<g id="n420"><circle class="g" cx="419" cy="387" r="10"/></g>
<g id="n421"><circle class="h" cx="370" cy="373" r="9"/></g>
<g id="n422"><circle class="h" cx="346" cy="403" r="11"/></g>
<g id="n423"><circle class="h" cx="372" cy="432" r="10"/></g>
<g id="n424"><circle class="i" cx="381" cy="380" r="13"/></g>
<g id="n425"><circle class="i" cx="402" cy="393" r="12"/></g>
<g id="n426"><circle class="i" cx="365" cy="403" r="12"/></g>
<g id="n427"><circle class="i" cx="387" cy="405" r="13"/></g>
<g id="n428"><circle class="i" cx="384" cy="422" r="11"/></g>
</g>
<g id="highlights">
<circle class="ring" cx="381.5" cy="382" r="13" stroke="#377eb8" stroke-opacity="0.75"/>
<circle class="ring" cx="366" cy="404" r="12.5" stroke="#4daf4a"/>
<circle class="ring" cx="387" cy="405" r="13" stroke="#e41a1c"/>
<circle class="ring" cx="384.5" cy="421.5" r="12.5" stroke="#984ea3"/>
<circle class="ring" cx="401" cy="393" r="13" stroke="#ff7f00"/>
</g>
<g id="legend">
<circle class="ring" cx="681.5" cy="89" r="9.3" stroke="#e41a1c"/>
<text class="lt" x="704" y="93.5">UNIVERSITY OF PENNSYLVANIA</text>
<circle class="ring" cx="681.5" cy="120.5" r="9.3" stroke="#377eb8"/>
<text class="lt" x="704" y="125">NEW YORK UNIVERSITY</text>
<circle class="ring" cx="681.5" cy="152" r="9.3" stroke="#4daf4a"/>
<text class="lt" x="704" y="156.5">HARVARD UNIVERSITY</text>
<circle class="ring" cx="681.5" cy="183.5" r="9.3" stroke="#984ea3"/>
<text class="lt" x="704" y="188">STANFORD UNIVERSITY</text>
<circle class="ring" cx="681.5" cy="215.5" r="9.3" stroke="#ff7f00"/>
<text class="lt" x="704" y="220">UNIVERSITY OF CHICAGO</text>
</g>
</svg>
